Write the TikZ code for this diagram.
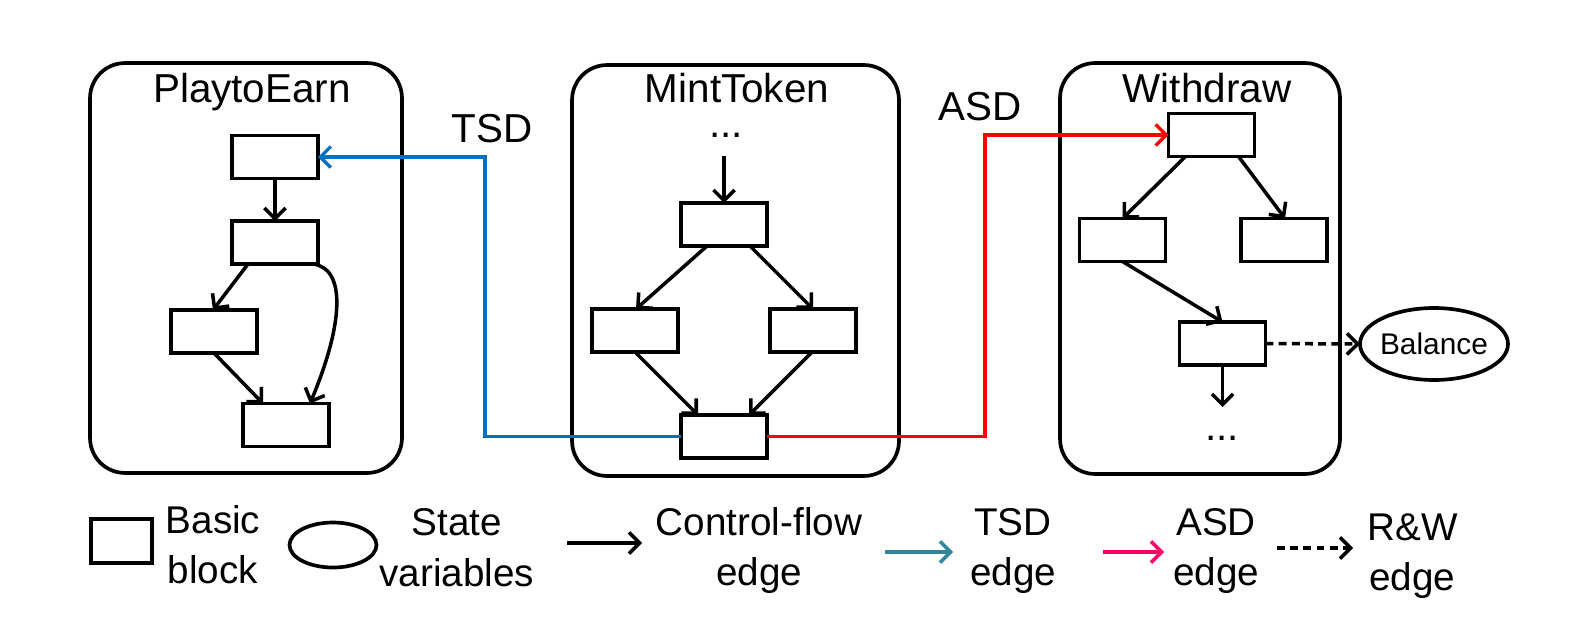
\documentclass[tikz,border=0pt]{standalone}
\usepackage{fontspec}
\setmainfont{Liberation Sans}
\usetikzlibrary{arrows.meta,shapes.geometric,calc}
\definecolor{tsdblue}{HTML}{0070C0}
\definecolor{asdred}{HTML}{FF0000}
\definecolor{legteal}{HTML}{31859C}
\definecolor{legpink}{HTML}{FF0066}
\tikzset{
  bb/.style={draw, line width=2.1pt, minimum width=1.72cm, minimum height=0.86cm, inner sep=0pt, outer sep=0pt},
  container/.style={draw, line width=2.1pt, rounded corners=0.7cm, inner sep=0pt, outer sep=0pt},
  tip/.style={-{Straight Barb[length=6pt,width=12pt]}},
  cf/.style={tip, line width=2pt},
  dep/.style={tip, line width=1.9pt},
  rw/.style={cf, dash pattern=on 4.5pt off 3pt},
  title/.style={font=\fontsize{23}{28}\selectfont, anchor=base, inner sep=0pt},
  leg/.style={font=\fontsize{22}{26}\selectfont, anchor=base, inner sep=0pt},
  statevar/.style={draw, ellipse, line width=2.1pt, inner sep=0pt, outer sep=0pt}
}
\begin{document}
\begin{tikzpicture}[x=0.02cm, y=-0.02cm]
\useasboundingbox (0,0) rectangle (1577,639);

% containers
\node[container, minimum width=6.24cm, minimum height=8.2cm] (c1) at (246,268) {};
\node[container, minimum width=6.54cm, minimum height=8.22cm] (c2) at (735.5,270.5) {};
\node[container, minimum width=5.6cm, minimum height=8.22cm] (c3) at (1200,268.5) {};

\node[title] (t1) at (252,102) {PlaytoEarn};
\node[title] (t2) at (737,102) {MintToken};
\node[title] (t3) at (1207,102) {Withdraw};

% PlaytoEarn blocks
\node[bb] (p1) at (275,157) {};
\node[bb] (p2) at (275,242.5) {};
\node[bb] (p3) at (214,331.5) {};
\node[bb] (p4) at (286,425) {};
\draw[cf] (p1.south) -- (p2.north);
\draw[cf] ($(p2.south)+(-27,0)$) -- ($(p3.north)+(-1,0)$);
\draw[cf] (p3.south) -- ($(p4.north)+(-23,0)$);
\draw[cf] ($(p2.south)+(38,0)$) .. controls (345,268) and (345,320) .. ($(p4.north)+(24,0)$);

% MintToken blocks
\node[title] (mdots) at (726,137) {...};
\coordinate (mstart) at (724,156);
\node[bb] (m1) at (724,224.5) {};
\node[bb] (m2) at (635,330.5) {};
\node[bb] (m3) at (813,330.5) {};
\node[bb] (m4) at (724,436.5) {};
\draw[cf] (mstart) -- (m1.north);
\draw[cf] ($(m1.south)+(-17,0)$) -- ($(m2.north)+(1,0)$);
\draw[cf] ($(m1.south)+(26,0)$) -- (m3.north);
\draw[cf] (m2.south) -- ($(m4.north)+(-26,0)$);
\draw[cf] ($(m3.south)+(-1,0)$) -- ($(m4.north)+(25,0)$);

% Withdraw blocks
\node[bb] (w1) at (1211.5,135) {};
\node[bb] (w2) at (1122.5,240) {};
\node[bb] (w3) at (1284,240) {};
\node[bb] (w4) at (1222.5,343.5) {};
\draw[cf] ($(w1.south)+(-26,0)$) -- (w2.north);
\draw[cf] ($(w1.south)+(27,0)$) -- ($(w3.north)+(1,0)$);
\draw[cf] (w2.south) -- (w4.north);
\coordinate (wend) at (1222.5,407);
\draw[cf] (w4.south) -- (wend);
\node[title] (wdots) at (1222,440) {...};

% state variable
\node[statevar, minimum width=2.96cm, minimum height=1.44cm] (bal) at (1434,344) {};
\node[font=\fontsize{17}{20}\selectfont, inner sep=0pt] (baltext) at (1434,344) {Balance};
\draw[rw] (w4.east) -- (bal.west);

% dependency edges
\draw[dep, tsdblue] (m4.west) -| (485,157) -- (p1.east);
\draw[dep, asdred] (m4.east) -| (985,135) -- (w1.west);
\node[title] (tsdlab) at (492,142) {TSD};
\node[title] (asdlab) at (980,120) {ASD};

% legend
\node[bb, minimum width=1.22cm, minimum height=0.88cm] (lrect) at (121.5,541) {};
\node[leg] (lbasic) at (213,533) {Basic};
\node[leg] (lblock) at (213,583) {block};
\node[statevar, minimum width=1.74cm, minimum height=0.9cm] (lell) at (333,545) {};
\node[leg] (lstate) at (457,535) {State};
\node[leg] (lvars) at (457,586) {variables};
\coordinate (la1) at (567,543);
\coordinate (la2) at (642,543);
\draw[cf] (la1) -- (la2);
\node[leg] (lcf) at (759,535) {Control-flow};
\node[leg] (lcfe) at (759,585) {edge};
\coordinate (lb1) at (885,552);
\coordinate (lb2) at (953,552);
\draw[cf, legteal] (lb1) -- (lb2);
\node[leg] (ltsd) at (1013,535) {TSD};
\node[leg] (ltsde) at (1013,585) {edge};
\coordinate (lc1) at (1103,552);
\coordinate (lc2) at (1164,552);
\draw[cf, legpink] (lc1) -- (lc2);
\node[leg] (lasd) at (1216,535) {ASD};
\node[leg] (lasde) at (1216,585) {edge};
\coordinate (ld1) at (1277,548);
\coordinate (ld2) at (1353,548);
\draw[rw] (ld1) -- (ld2);
\node[leg] (lrw) at (1413,540) {R\&W};
\node[leg] (lrwe) at (1412,590) {edge};
\end{tikzpicture}
\end{document}
